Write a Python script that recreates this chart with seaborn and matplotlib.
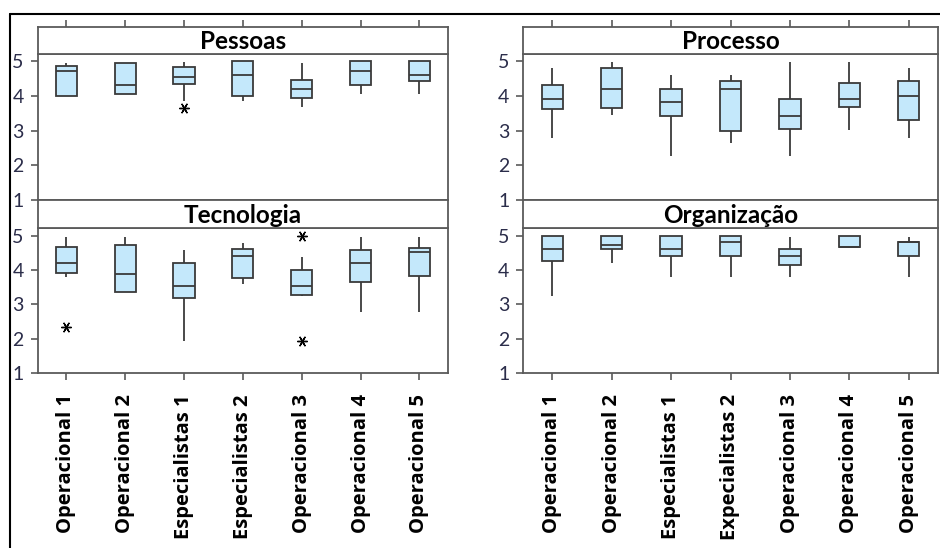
import numpy as np
import pandas as pd
import seaborn as sns
import matplotlib
matplotlib.use("Agg")
import matplotlib.pyplot as plt
from matplotlib.lines import Line2D

# ---------------- data ----------------
groups_left = ["Operacional 1", "Operacional 2", "Especialistas 1", "Especialistas 2",
               "Operacional 3", "Operacional 4", "Operacional 5"]
groups_right = ["Operacional 1", "Operacional 2", "Especialistas 1", "Expecialistas 2",
                "Operacional 3", "Operacional 4", "Operacional 5"]

# five-number summaries per group: [min whisker, Q1, median, Q3, max whisker]
pessoas = [[4.00, 4.00, 4.73, 4.87, 4.95],
           [4.04, 4.04, 4.31, 4.96, 4.96],
           [3.84, 4.34, 4.55, 4.84, 4.97],
           [3.86, 4.00, 4.61, 5.00, 5.00],
           [3.68, 3.93, 4.20, 4.47, 4.95],
           [4.04, 4.30, 4.73, 5.00, 5.00],
           [4.04, 4.43, 4.61, 5.00, 5.00]]
processo = [[2.80, 3.62, 3.91, 4.32, 4.81],
            [3.45, 3.64, 4.21, 4.80, 4.97],
            [2.26, 3.42, 3.82, 4.21, 4.59],
            [2.65, 3.00, 4.21, 4.43, 4.59],
            [2.26, 3.04, 3.42, 3.91, 4.97],
            [3.03, 3.68, 3.91, 4.36, 4.97],
            [2.80, 3.30, 4.00, 4.43, 4.81]]
tecnologia = [[3.80, 3.91, 4.20, 4.68, 4.96],
              [3.35, 3.35, 3.88, 4.72, 4.96],
              [1.95, 3.20, 3.55, 4.19, 4.59],
              [3.58, 3.78, 4.42, 4.61, 4.78],
              [3.24, 3.28, 3.55, 4.00, 4.39],
              [2.79, 3.66, 4.20, 4.58, 4.96],
              [2.79, 3.82, 4.53, 4.63, 4.96]]
organizacao = [[3.24, 4.26, 4.61, 5.00, 5.00],
               [4.21, 4.61, 4.73, 5.00, 5.00],
               [3.80, 4.41, 4.61, 5.00, 5.00],
               [3.80, 4.41, 4.82, 5.00, 5.00],
               [3.80, 4.15, 4.41, 4.61, 4.96],
               [4.65, 4.68, 4.68, 5.00, 5.00],
               [3.80, 4.41, 4.80, 4.80, 4.96]]

# outliers (asterisks): group index -> values
pessoas_out = {2: [3.65]}
processo_out = {}
tecnologia_out = {0: [2.35], 4: [4.98, 1.93]}
organizacao_out = {}

panels = [
    ("Pessoas", groups_left, pessoas, pessoas_out),
    ("Processo", groups_right, processo, processo_out),
    ("Tecnologia", groups_left, tecnologia, tecnologia_out),
    ("Organização", groups_right, organizacao, organizacao_out),
]

# ---------------- style ----------------
sns.set_theme(style="white")
plt.rcParams["font.family"] = ["Lato", "DejaVu Sans"]

W, H = 940, 548
fig = plt.figure(figsize=(W / 100, H / 100), dpi=100)

BOX_FILL = "#c4e8fb"
EDGE = "#3a3a3a"
SPINE = "#5a5a5a"
TICKCOL = "#2b2d4a"

def fx(px):
    return px / W

def fy(py):
    return 1 - py / H

cols = [(37.5, 448.3), (523.3, 937.7)]
rows = [  # (strip_top, strip_bottom/data_top, data_bottom)
    (27.3, 53.5, 200.0),
    (200.0, 228.0, 373.3),
]

XLIM = (-0.49, 6.49)
YLIM = (1, 5.22)

for i, (title, groups, stats, outl) in enumerate(panels):
    r, c = divmod(i, 2)
    x0, x1 = cols[c]
    st, sb, db = rows[r]
    ax = fig.add_axes([fx(x0), fy(db), fx(x1) - fx(x0), fy(sb) - fy(db)])
    sax = fig.add_axes([fx(x0), fy(sb), fx(x1) - fx(x0), fy(st) - fy(sb)])

    df = pd.DataFrame({
        "grupo": np.repeat(groups, 5),
        "valor": np.concatenate(stats),
    })
    sns.boxplot(data=df, x="grupo", y="valor", order=groups, ax=ax,
                whis=(0, 100), width=0.36, color=BOX_FILL, saturation=1,
                linecolor=EDGE, linewidth=1.3, showfliers=False,
                capprops={"visible": False})

    og, ov = [], []
    for k, vals in outl.items():
        for v in vals:
            og.append(groups[k])
            ov.append(v)
    if og:
        odf = pd.DataFrame({"grupo": og, "valor": ov})
        sns.stripplot(data=odf, x="grupo", y="valor", order=groups, ax=ax,
                      jitter=False, marker=(6, 2, 90), size=7, color="black",
                      edgecolor="black", linewidth=1.0)

    ax.set_xlim(*XLIM)
    ax.set_ylim(*YLIM)
    ax.set_yticks([1, 2, 3, 4, 5])
    ax.set_xlabel("")
    ax.set_ylabel("")
    for sp in ax.spines.values():
        sp.set_color(SPINE)
        sp.set_linewidth(1.3)
    ax.tick_params(axis="y", left=True, direction="out", length=5, width=1.2,
                   color=SPINE, labelsize=14, labelcolor=TICKCOL, pad=5)
    if r == 1:
        ax.set_xticks(range(len(groups)))
        ax.set_xticklabels(groups, rotation=90, fontweight="bold",
                           fontsize=14.5, family=["Open Sans", "DejaVu Sans"],
                           color="black")
        ax.tick_params(axis="x", bottom=True, direction="out", length=5,
                       width=1.2, color=SPINE, pad=10)
    else:
        ax.set_xticks([])

    # strip
    sax.set_xlim(*XLIM)
    sax.set_ylim(0, 1)
    sax.set_yticks([])
    if r == 0:
        sax.set_xticks(range(len(groups)))
        sax.tick_params(axis="x", top=True, bottom=False, labeltop=False,
                        labelbottom=False, direction="out", length=5,
                        width=1.2, color=SPINE)
    else:
        sax.set_xticks([])
    for sp in sax.spines.values():
        sp.set_color(SPINE)
        sp.set_linewidth(1.3)
    sax.text(0.5, 0.45, title, transform=sax.transAxes, ha="center",
             va="center", fontsize=17.5, fontweight="bold", color="black")

# outer frame (top and left borders)
fig.add_artist(Line2D([fx(9.5), 1.0], [fy(14), fy(14)], color="black", lw=1.5))
fig.add_artist(Line2D([fx(9.5), fx(9.5)], [fy(14), 0.0], color="black", lw=1.5))

fig.savefig("out.png", dpi=100, facecolor="white")
